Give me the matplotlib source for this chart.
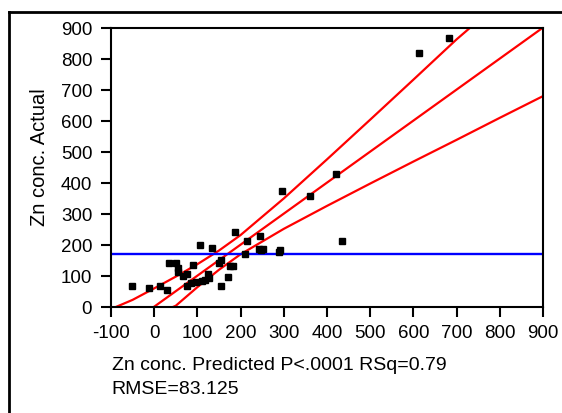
import numpy as np
import matplotlib
matplotlib.use("Agg")
import matplotlib.pyplot as plt
from matplotlib.lines import Line2D

plt.rcParams['font.family'] = ['Liberation Sans', 'DejaVu Sans']
plt.rcParams['axes.unicode_minus'] = False

# Actual by predicted values
predicted = [-51, -11, 14, 29, 34, 50, 54, 56, 67, 75, 89, 75, 85, 96, 110, 118,
             105, 124, 128, 134, 150, 155, 154, 171, 176, 182, 186, 211, 215,
             246, 242, 252, 248, 288, 292, 296, 360, 421, 436, 612, 683]
actual = [66, 60, 68, 55, 142, 142, 124, 112, 100, 106, 135, 68, 78, 80, 84, 86,
          200, 105, 92, 188, 141, 152, 67, 97, 130, 132, 240, 170, 212,
          229, 186, 186, 182, 177, 182, 374, 358, 428, 212, 818, 866]

mean_actual = 170

# confidence curves
upper_x = [-87, -50, 0, 50, 100, 150, 200, 300, 400, 500, 600, 700, 740]
upper_y = [0, 22, 59, 97, 137, 181, 231, 349, 475, 603, 732, 862, 910]
lower_x = [45, 50, 100, 150, 200, 300, 400, 500, 600, 700, 800, 900]
lower_y = [0, 3, 63, 119, 169, 251, 325, 397, 468, 538, 609, 679]

x_ticks = list(range(-100, 1000, 100))
y_ticks = list(range(0, 1000, 100))

fig = plt.figure(figsize=(5.62, 4.14), dpi=100)
ax = fig.add_axes([0.1975, 0.2568, 0.7685, 0.674])

ax.plot(upper_x, upper_y, color='#ff0000', lw=1.6)
ax.plot(lower_x, lower_y, color='#ff0000', lw=1.6)
ax.axline((0, 0), slope=1, color='#ff0000', lw=1.6)
ax.axhline(mean_actual, color='#0000ff', lw=1.7)
ax.plot(predicted, actual, 's', color='black', ms=3.8, ls='none')

ax.set_xlim(-100, 900)
ax.set_ylim(0, 900)
ax.set_xticks(x_ticks)
ax.set_yticks(y_ticks)
ax.tick_params(direction='out', length=7.5, width=1.5, labelsize=13.5, color='black')
ax.tick_params(axis='x', pad=5)
ax.tick_params(axis='y', pad=6)
for s in ax.spines.values():
    s.set_linewidth(1.5)

fig.text(0.071, 0.62, 'Zn conc. Actual', rotation=90, ha='center', va='center', fontsize=14.5)
fig.text(0.199, 0.106, 'Zn conc. Predicted P<.0001 RSq=0.79', ha='left', va='baseline', fontsize=14)
fig.text(0.199, 0.0483, 'RMSE=83.125', ha='left', va='baseline', fontsize=14)

# outer frame (top and left edges)
fig.add_artist(Line2D([0.016, 1.0], [0.9686, 0.9686], color='black', lw=2, transform=fig.transFigure))
fig.add_artist(Line2D([0.016, 0.016], [0.0, 0.9686], color='black', lw=2, transform=fig.transFigure))

fig.savefig('out.png', dpi=100)
